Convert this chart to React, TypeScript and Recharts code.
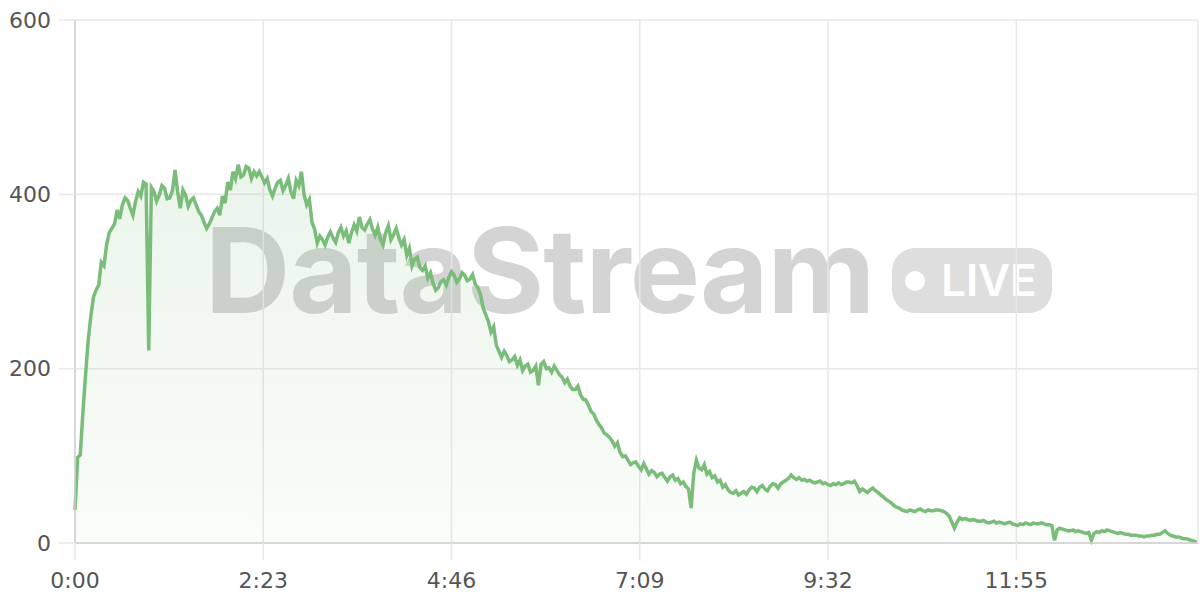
import { AreaChart, Area, XAxis, YAxis, CartesianGrid } from 'recharts';

// one reading every STEP_SECONDS seconds
const STEP_SECONDS = 2;

const viewers = [
  38, 98, 101, 150, 193, 232, 260, 282, 290, 296,
  322, 318, 342, 356, 361, 366, 382, 372, 388, 396,
  393, 384, 376, 392, 403, 398, 414, 412, 221, 408,
  403, 392, 399, 410, 407, 395, 396, 404, 428, 402,
  384, 405, 399, 386, 393, 396, 388, 380, 376, 368,
  361, 366, 373, 380, 384, 376, 398, 390, 414, 405,
  426, 418, 434, 420, 422, 432, 430, 418, 426, 421,
  426, 420, 413, 418, 405, 398, 407, 414, 416, 404,
  410, 418, 403, 395, 416, 410, 426, 400, 388, 394,
  368, 360, 344, 352, 348, 342, 351, 357, 350, 345,
  356, 362, 352, 358, 344, 356, 365, 358, 374, 362,
  359, 366, 371, 360, 353, 362, 348, 342, 356, 364,
  348, 354, 361, 350, 342, 348, 330, 338, 318, 326,
  328, 316, 313, 318, 304, 310, 298, 290, 293, 300,
  302, 296, 305, 311, 307, 299, 303, 310, 307, 301,
  303, 308, 297, 293, 285, 270, 262, 254, 242, 248,
  227, 220, 213, 220, 215, 208, 210, 214, 204, 210,
  198, 203, 205, 196, 198, 203, 181, 205, 208, 200,
  201, 196, 203, 198, 193, 190, 184, 188, 180, 176,
  176, 180, 170, 165, 164, 158, 151, 148, 141, 136,
  132, 126, 124, 121, 117, 111, 115, 104, 99, 100,
  95, 90, 92, 93, 88, 84, 91, 85, 79, 83,
  81, 76, 79, 80, 75, 71, 76, 78, 72, 74,
  68, 70, 65, 62, 40, 80, 95, 86, 84, 90,
  79, 82, 75, 77, 70, 72, 64, 67, 61, 58,
  57, 60, 55, 57, 59, 56, 61, 64, 63, 59,
  64, 66, 62, 60, 65, 68, 67, 63, 68, 70,
  72, 74, 78, 75, 73, 75, 72, 73, 71, 72,
  70, 69, 70, 71, 68, 69, 67, 66, 68, 67,
  69, 67, 68, 70, 70, 69, 71, 66, 59, 62,
  60, 58, 61, 63, 60, 58, 55, 53, 50, 48,
  46, 43, 41, 40, 38, 37, 36, 38, 37, 36,
  38, 39, 37, 36, 38, 37, 37, 38, 38, 37,
  36, 34, 31, 24, 17, 24, 29, 27, 28, 27,
  26, 27, 26, 25, 25, 26, 24, 23, 24, 25,
  23, 24, 23, 22, 23, 24, 22, 21, 20, 22,
  21, 23, 22, 21, 23, 22, 22, 23, 22, 21,
  21, 20, 3, 15, 17, 16, 15, 14, 14, 15,
  13, 14, 13, 12, 11, 12, 3, 11, 13, 12,
  14, 13, 15, 14, 13, 12, 11, 12, 11, 10,
  10, 9, 9, 9, 8, 8, 7, 8, 8, 9,
  9, 10, 10, 12, 14, 11, 9, 8, 7, 7,
  6, 5, 5, 4, 3, 2, 1,
];

const xTicks = [0, 143, 286, 429, 572, 715];
const yTicks = [0, 200, 400, 600];

const data = viewers.map((v, i) => ({ t: i * STEP_SECONDS, v }));

function fmtTime(sec: number) {
  const m = Math.floor(sec / 60);
  const s = sec % 60;
  return `${m}:${s < 10 ? '0' : ''}${s}`;
}

const GREEN = '#7abd7a';
const tickStyle = { fill: '#555555', fontSize: 22, fontFamily: 'DejaVu Sans' };

function Watermark() {
  return (
    <svg width={1200} height={600} style={{ position: 'absolute', left: 0, top: 0 }}>
      <text
        x={205}
        y={313}
        fontFamily="Inter"
        fontWeight={700}
        fontSize={118}
        fill="#d4d4d4"
        letterSpacing={-1}
      >
        DataStream
      </text>
      <rect x={892} y={248} width={160} height={65} rx={23} fill="#dedede" />
      <circle cx={915} cy={281} r={10} fill="#ffffff" />
      <text x={941} y={296} fontFamily="Inter" fontWeight={600} fontSize={44} fill="#ffffff">
        LIVE
      </text>
    </svg>
  );
}

export default function App() {
  return (
    <div style={{ position: 'relative', width: 1200, height: 600 }}>
      <style>{'body{margin:0}'}</style>
      <Watermark />
      <div style={{ position: 'absolute', left: 0, top: 0 }}>
        <AreaChart
          width={1200}
          height={600}
          data={data}
          margin={{ top: 20, right: 2, left: 0, bottom: 0 }}
        >
          <defs>
            <linearGradient id="fillGreen" x1="0" y1="0" x2="0" y2="1">
              <stop offset="0%" stopColor={GREEN} stopOpacity={0.26} />
              <stop offset="100%" stopColor={GREEN} stopOpacity={0.06} />
            </linearGradient>
          </defs>
          <CartesianGrid stroke="#e8e8e8" strokeWidth={1.5} />
          <XAxis
            dataKey="t"
            type="number"
            domain={[0, 853]}
            ticks={xTicks}
            tickFormatter={fmtTime}
            height={57}
            tickSize={17}
            tickMargin={12}
            tick={tickStyle}
            tickLine={{ stroke: '#e8e8e8', strokeWidth: 1.5 }}
            axisLine={{ stroke: '#cfcfcf', strokeWidth: 1.5 }}
          />
          <YAxis
            domain={[0, 600]}
            ticks={yTicks}
            width={75}
            tickSize={16}
            tickMargin={8}
            tick={tickStyle}
            tickLine={{ stroke: '#e8e8e8', strokeWidth: 1.5 }}
            axisLine={{ stroke: '#cfcfcf', strokeWidth: 1.5 }}
          />
          <Area
            type="linear"
            dataKey="v"
            stroke={GREEN}
            strokeWidth={3.5}
            strokeLinejoin="miter"
            fill="url(#fillGreen)"
            dot={false}
            activeDot={false}
            isAnimationActive={false}
          />
        </AreaChart>
      </div>
    </div>
  );
}
